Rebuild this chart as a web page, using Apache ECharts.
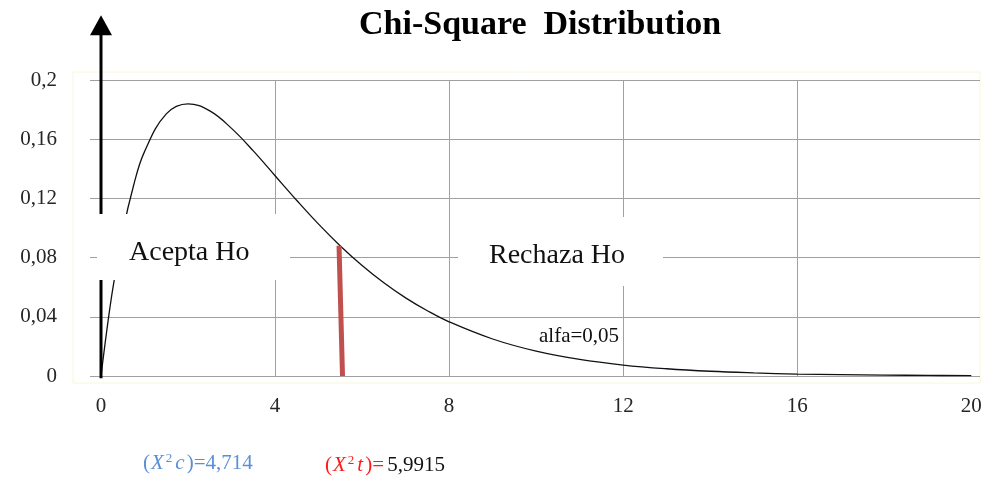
<!DOCTYPE html>
<html>
<head>
<meta charset="utf-8">
<script src="https://cdn.jsdelivr.net/npm/echarts@6/dist/echarts.min.js"></script>
<style>
html,body{margin:0;padding:0;background:#fff;}
#chart{width:985px;height:479px;}
</style>
</head>
<body>
<div id="chart"></div>
<script>
// ---- data ----
const xValues = [0, 0.25, 0.5, 0.75, 1, 1.5, 2, 2.5, 3, 3.5, 4, 4.5, 5, 5.5, 6, 6.5, 7, 7.5, 8, 9, 10, 11, 12, 13, 14, 15, 16, 17, 18, 19, 20];
const densityValues = [0, 0.0552, 0.0974, 0.1289, 0.1516, 0.1771, 0.1839, 0.1791, 0.1673, 0.1521, 0.1353, 0.1186, 0.1026, 0.0879, 0.0747, 0.0630, 0.0528, 0.0441, 0.0366, 0.0250, 0.0168, 0.0112, 0.0074, 0.0049, 0.0032, 0.0021, 0.0013, 0.0009, 0.0006, 0.0004, 0.0002];
const xTickLabels = [0, 4, 8, 12, 16, 20];
const xGridValues = [4, 8, 12, 16];
const criticalX = [5.55, 5.47];
const criticalY = [0, 0.088];
const arrowX = [0, 0];
const arrowY = [-0.0015, 0.237];
const titleText = 'Chi-Square  Distribution';
const acceptText = 'Acepta Ho';
const rejectText = 'Rechaza Ho';
const alphaText = 'alfa=0,05';

const serif = '"Liberation Serif", "Times New Roman", serif';
const chart = echarts.init(document.getElementById('chart'), null, {renderer: 'canvas'});

const curve = xValues.map((x, i) => [x, densityValues[i]]);
const critical = criticalX.map((x, i) => [x, criticalY[i]]);
const arrow = arrowX.map((x, i) => ({
  value: [x, arrowY[i]],
  symbol: i === arrowX.length - 1 ? 'triangle' : 'none',
  symbolSize: [22, 20]
}));

chart.setOption({
  animation: false,
  backgroundColor: '#fff',
  title: {
    text: titleText,
    left: 354, top: 3,
    textStyle: {fontFamily: serif, fontWeight: 'bold', fontSize: 34, color: '#000'}
  },
  grid: {left: 90, right: 5, top: 80, bottom: 103, containLabel: false},
  xAxis: {
    type: 'value', min: -0.253, max: 20.2,
    axisLine: {show: false},
    axisTick: {show: false, customValues: xGridValues},
    axisLabel: {
      customValues: xTickLabels, margin: 20,
      fontFamily: serif, fontSize: 21, color: '#262626'
    },
    splitLine: {show: true, lineStyle: {color: '#a0a0a0', width: 1}}
  },
  yAxis: {
    type: 'value', min: 0, max: 0.2, interval: 0.04,
    axisLine: {show: false}, axisTick: {show: false},
    axisLabel: {
      margin: 33, fontFamily: serif, fontSize: 21, color: '#262626',
      formatter: v => String(+v.toFixed(2)).replace('.', ',')
    },
    splitLine: {show: true, lineStyle: {color: '#a0a0a0', width: 1}}
  },
  series: [
    {
      type: 'line', data: curve, smooth: 0.4, symbol: 'none',
      lineStyle: {color: '#111', width: 1.3}, z: 3
    },
    {
      type: 'line', data: critical, symbol: 'none', clip: false,
      lineStyle: {color: '#c0504d', width: 5, cap: 'butt'}, z: 4
    },
    {
      type: 'line', data: arrow, clip: false,
      itemStyle: {color: '#000'},
      lineStyle: {color: '#000', width: 3}, z: 5
    }
  ],
  graphic: [
    {type: 'rect', z: 0, silent: true, shape: {x: 73, y: 72, width: 907, height: 311},
     style: {fill: 'none', stroke: '#fbf6d6', lineWidth: 1}},
    {type: 'rect', z: 100, shape: {x: 97, y: 214, width: 193, height: 66}, style: {fill: '#fff'}},
    {type: 'text', z: 101, x: 129, y: 253,
     style: {text: acceptText, font: '28px ' + serif, fill: '#111', verticalAlign: 'middle'}},
    {type: 'rect', z: 100, shape: {x: 458, y: 217, width: 205, height: 69}, style: {fill: '#fff'}},
    {type: 'text', z: 101, x: 489, y: 256,
     style: {text: rejectText, font: '28px ' + serif, fill: '#111', verticalAlign: 'middle'}},
    {type: 'text', z: 1, x: 539, y: 336,
     style: {text: alphaText, font: '21px ' + serif, fill: '#111', verticalAlign: 'middle'}},
    {type: 'text', z: 101, x: 143, y: 463,
     style: {
       text: '{n|(}{i|X}{s|2}{i|c}{n|)=4,714}',
       verticalAlign: 'middle',
       rich: {
         n: {fontFamily: serif, fontSize: 21, fill: '#5b8fd4'},
         i: {fontFamily: serif, fontSize: 21, fontStyle: 'italic', fill: '#5b8fd4', padding: [0, 2, 0, 1]},
         s: {fontFamily: serif, fontSize: 13, fill: '#5b8fd4', verticalAlign: 'top', padding: [0, 2, 0, 0]}
       }
     }},
    {type: 'text', z: 101, x: 325, y: 465,
     style: {
       text: '{n|(}{i|X}{s|2}{i|t}{n|)=} {k|5,9915}',
       verticalAlign: 'middle',
       rich: {
         n: {fontFamily: serif, fontSize: 21, fill: '#ff1a1a'},
         i: {fontFamily: serif, fontSize: 21, fontStyle: 'italic', fill: '#ff1a1a', padding: [0, 2, 0, 1]},
         s: {fontFamily: serif, fontSize: 13, fill: '#ff1a1a', verticalAlign: 'top', padding: [0, 2, 0, 0]},
         k: {fontFamily: serif, fontSize: 21, fill: '#111'}
       }
     }}
  ]
});
</script>
</body>
</html>
